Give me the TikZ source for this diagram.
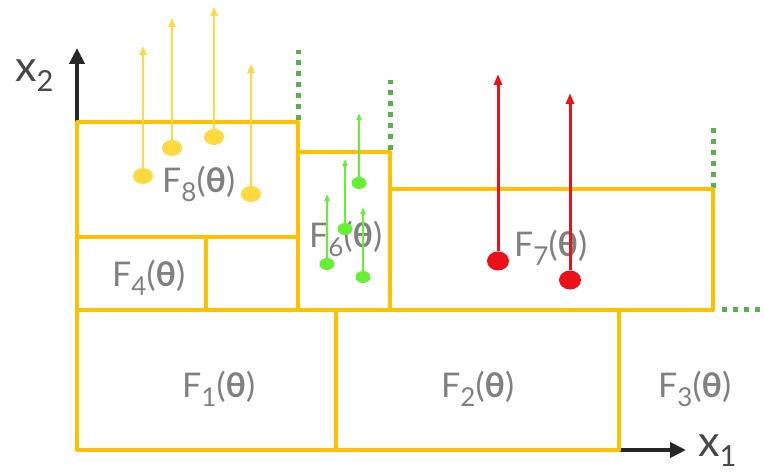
\documentclass[tikz,border=0pt]{standalone}
\usepackage{fontspec}
\setmainfont{Lato}
\usetikzlibrary{arrows.meta,positioning,shapes.geometric}
\definecolor{boxorange}{RGB}{255,192,0}
\definecolor{dotyellow}{RGB}{255,217,64}
\definecolor{dotred}{RGB}{236,16,26}
\definecolor{dotgreen}{RGB}{102,240,51}
\definecolor{dashgreen}{RGB}{88,176,76}
\definecolor{labgray}{RGB}{128,128,128}
\definecolor{axgray}{RGB}{38,38,38}
\newcommand{\Flab}[1]{F\raisebox{-9pt}{\fontsize{26}{26}\selectfont #1}(\textbf{θ})}
\newcommand{\xlab}[1]{x\raisebox{-10pt}{\fontsize{29}{29}\selectfont #1}}

\begin{document}
\begin{tikzpicture}[x=1pt,y=-1pt,
  fbox/.style={draw=boxorange,line width=4pt,line join=round},
  axis/.style={draw=axgray,line width=4pt,-{Triangle[length=16pt,width=15pt]}},
  ydot/.style={ellipse,fill=dotyellow,inner sep=0,minimum width=20pt,minimum height=16pt},
  rdot/.style={ellipse,fill=dotred,inner sep=0,minimum width=22pt,minimum height=19pt},
  gdot/.style={ellipse,fill=dotgreen,inner sep=0,minimum width=15pt,minimum height=12pt},
  yarrow/.style={draw=dotyellow,line width=2.5pt,-{Triangle[length=9pt,width=7pt]}},
  rarrow/.style={draw=dotred,line width=3pt,-{Triangle[length=11pt,width=8pt]}},
  garrow/.style={draw=dotgreen,line width=2pt,-{Triangle[length=7pt,width=5pt]}},
  gdots/.style={draw=dashgreen,line width=5pt,dash pattern=on 5pt off 6pt},
  flab/.style={text=labgray,anchor=base west,inner sep=0,font=\fontsize{34}{34}\selectfont},
  axlab/.style={text=axgray!85,anchor=base west,inner sep=0,font=\fontsize{43}{43}\selectfont}]
  \useasboundingbox (0,0) rectangle (764,473);
  % axes
  \coordinate (O) at (77,450);
  \draw[axis] (O) -- (77,48) coordinate (x2end);
  \draw[axis] (O) -- (686,450) coordinate (x1end);
  \node[axlab] (x2lab) at (15,82) {\xlab{2}};
  \node[axlab] (x1lab) at (698,456) {\xlab{1}};
  % green dotted edges
  \draw[gdots] (298,120) -- (298,50);
  \draw[gdots] (390,150) -- (390,80);
  \draw[gdots] (713,188) -- (713,125);
  \draw[gdots] (722,310) -- (764,310);
  % boxes
  \draw[fbox] (77,310) rectangle (336,450);
  \draw[fbox] (336,310) rectangle (619,450);
  \draw[fbox] (77,237) rectangle (206,310);
  \draw[fbox] (206,237) rectangle (298,310);
  \draw[fbox] (77,122) rectangle (298,237);
  \draw[fbox] (298,152) rectangle (390,310);
  \draw[fbox] (390,189) rectangle (713,310);
  % labels
  \node[flab] (F1) at (182,398) {\Flab{1}};
  \node[flab] (F2) at (441,398) {\Flab{2}};
  \node[flab] (F3) at (658,398) {\Flab{3}};
  \node[flab] (F4) at (112,287) {\Flab{4}};
  \node[flab] (F6) at (309,248) {\Flab{6}};
  \node[flab] (F7) at (514,257) {\Flab{7}};
  \node[flab] (F8) at (162,193) {\Flab{8}};
  % yellow points
  \foreach \n/\px/\py in {1/143/176, 2/172/148, 3/214/137, 4/251/194} {
    \node[ydot] (y\n) at (\px,\py) {};
    \draw[yarrow] (y\n) -- ++(0,-130);
  }
  % green points
  \foreach \n/\px/\py in {1/359/183, 2/345/229, 3/327/264, 4/363/277} {
    \node[gdot] (g\n) at (\px,\py) {};
    \draw[garrow] (g\n) -- ++(0,-70);
  }
  % red points
  \foreach \n/\px/\py in {1/498/261, 2/570/280} {
    \node[rdot] (r\n) at (\px,\py) {};
    \draw[rarrow] (r\n) -- ++(0,-187);
  }
\end{tikzpicture}
\end{document}
